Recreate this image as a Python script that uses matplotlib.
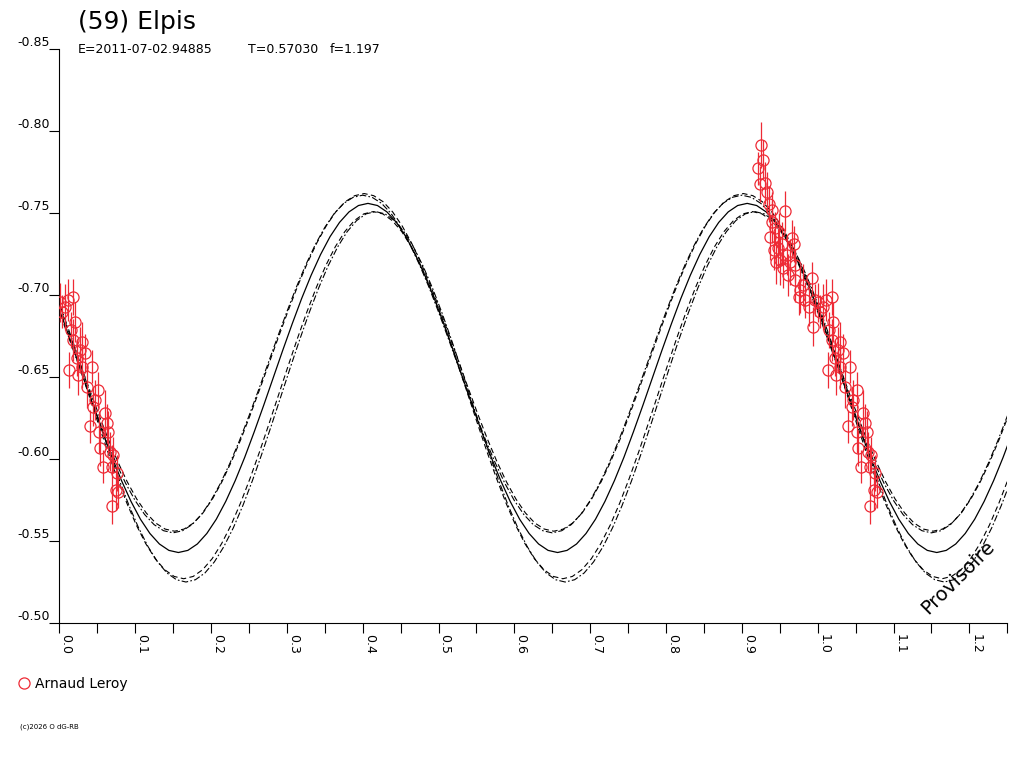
import numpy as np
import matplotlib
matplotlib.use("Agg")
import matplotlib.pyplot as plt
from matplotlib.lines import Line2D

plt.rcParams['font.family'] = ['DejaVu Sans']

title = "(59) Elpis"
epoch_txt = "E=2011-07-02.94885"
period_txt = "T=0.57030"
f_txt = "f=1.197"
observer = "Arnaud Leroy"
credit = "(c)2026 O dG-RB"
stamp = "Provisoire"

# observations: rotation phase [0,1), relative magnitude, error bar
phase_obs = [0.9257, 0.9274, 0.9214, 0.9244, 0.9310, 0.9332, 0.9354, 0.9565, 0.9398, 0.9442,
             0.9376, 0.9662, 0.9530, 0.9420, 0.9508, 0.9596, 0.9455, 0.9683, 0.9640, 0.9548,
             0.9706, 0.9613, 0.9482, 0.9749, 0.9772, 0.9926, 0.9881, 0.9811, 0.9838, 0.9939,
             0.9970, 0.9706, 0.9402, 0.9495,
             0.0009, 0.0075, 0.0185, 0.0032, 0.0115, 0.0207, 0.0154, 0.0185, 0.0296, 0.0273,
             0.0230, 0.0339, 0.0132, 0.0296, 0.0427, 0.0247, 0.0361, 0.0515, 0.0449, 0.0603,
             0.0405, 0.0625, 0.0646, 0.0537, 0.0669, 0.0573, 0.0691, 0.0757, 0.0748, 0.0778,
             0.0691, 0.0471, 0.0524, 0.0708]
mag_obs = [-0.7915, -0.7827, -0.7773, -0.7681, -0.7685, -0.7630, -0.7559, -0.7514, -0.7447, -0.7409,
           -0.7355, -0.7346, -0.7315, -0.7274, -0.7213, -0.7244, -0.7201, -0.7315, -0.7201, -0.7165,
           -0.7183, -0.7122, -0.7287, -0.6990, -0.7030, -0.7102, -0.6929, -0.7061, -0.6970, -0.6807,
           -0.6970, -0.7091, -0.7518, -0.7384,
           -0.6956, -0.6929, -0.6986, -0.6898, -0.6970, -0.6837, -0.6787, -0.6726, -0.6715, -0.6665,
           -0.6614, -0.6646, -0.6543, -0.6563, -0.6563, -0.6513, -0.6441, -0.6421, -0.6319, -0.6279,
           -0.6201, -0.6218, -0.6166, -0.6065, -0.6045, -0.5953, -0.5953, -0.5913, -0.5811, -0.5801,
           -0.5713, -0.6360, -0.6165, -0.6024]
err_obs = [0.014, 0.012, 0.010, 0.011, 0.013, 0.012, 0.011, 0.012, 0.013, 0.010,
           0.014, 0.011, 0.013, 0.012, 0.015, 0.012, 0.013, 0.011, 0.014, 0.012,
           0.010, 0.013, 0.012, 0.011, 0.014, 0.010, 0.012, 0.013, 0.011, 0.012,
           0.010, 0.013, 0.011, 0.012,
           0.012, 0.014, 0.011, 0.010, 0.013, 0.012, 0.011, 0.013, 0.012, 0.014,
           0.011, 0.012, 0.011, 0.013, 0.010, 0.012, 0.013, 0.011, 0.012, 0.014,
           0.010, 0.012, 0.013, 0.011, 0.012, 0.010, 0.013, 0.011, 0.012, 0.010,
           0.011, 0.012, 0.013, 0.011]

# model curves: phase of maximum, then magnitude from maximum
# down to minimum every 0.0125 in phase (curve is symmetric, period 0.5)
step = 0.0125
fit_peak = 0.407
fit_mag = [-0.7560, -0.7547, -0.7508, -0.7444, -0.7357, -0.7248, -0.7121, -0.6979, -0.6824, -0.6662,
           -0.6495, -0.6328, -0.6166, -0.6011, -0.5869, -0.5742, -0.5633, -0.5546, -0.5482, -0.5443, -0.5430]
up1_peak = 0.402
up1_mag = [-0.7620, -0.7607, -0.7570, -0.7508, -0.7423, -0.7318, -0.7195, -0.7058, -0.6908, -0.6751,
           -0.6590, -0.6429, -0.6272, -0.6122, -0.5985, -0.5862, -0.5757, -0.5672, -0.5610, -0.5573, -0.5560]
up2_peak = 0.400
up2_mag = [-0.7610, -0.7597, -0.7560, -0.7498, -0.7413, -0.7308, -0.7185, -0.7048, -0.6898, -0.6741,
           -0.6580, -0.6419, -0.6262, -0.6112, -0.5975, -0.5852, -0.5747, -0.5662, -0.5600, -0.5563, -0.5550]
lo1_peak = 0.414
lo1_mag = [-0.7510, -0.7496, -0.7455, -0.7388, -0.7296, -0.7182, -0.7048, -0.6898, -0.6736, -0.6565,
           -0.6390, -0.6215, -0.6044, -0.5882, -0.5732, -0.5598, -0.5484, -0.5392, -0.5325, -0.5284, -0.5270]
lo2_peak = 0.417
lo2_mag = [-0.7510, -0.7496, -0.7455, -0.7387, -0.7294, -0.7179, -0.7044, -0.6893, -0.6729, -0.6557,
           -0.6380, -0.6203, -0.6031, -0.5867, -0.5716, -0.5581, -0.5466, -0.5373, -0.5305, -0.5264, -0.5250]

x_major = [0.0, 0.1, 0.2, 0.3, 0.4, 0.5, 0.6, 0.7, 0.8, 0.9, 1.0, 1.1, 1.2]
x_minor = [0.05, 0.15, 0.25, 0.35, 0.45, 0.55, 0.65, 0.75, 0.85, 0.95, 1.05, 1.15, 1.25]
y_ticks = [-0.85, -0.80, -0.75, -0.70, -0.65, -0.60, -0.55, -0.50]

red = '#ee2a35'


def model(peak, half):
    half = np.array(half)
    one = np.r_[half[::-1], half[1:-1]]          # min -> max -> just before next min
    d = (np.arange(len(one)) - (len(half) - 1)) * step
    xs = np.concatenate([peak + d + s for s in (-0.5, 0.0, 0.5, 1.0)])
    ys = np.tile(one, 4)
    return xs, ys


W, H = 1024, 768
fig = plt.figure(figsize=(W / 100, H / 100), dpi=100)
ax = fig.add_axes([59.3 / W, 1 - 623 / H, (1007.3 - 59.3) / W, (623 - 49.3) / H])

for pk, mg, ls in [(up1_peak, up1_mag, (0, (5, 3))),
                   (up2_peak, up2_mag, (0, (6, 2, 1.5, 2))),
                   (lo1_peak, lo1_mag, (0, (5, 3))),
                   (lo2_peak, lo2_mag, (0, (6, 2, 1.5, 2)))]:
    xs, ys = model(pk, mg)
    ax.plot(xs, ys, color='black', lw=0.8, ls=ls, zorder=2)
xs, ys = model(fit_peak, fit_mag)
ax.plot(xs, ys, color='black', lw=0.9, zorder=2)

# data shown at phase and phase+1
ph = np.array(phase_obs)
xd = np.r_[ph, ph + 1]
yd = np.r_[mag_obs, mag_obs]
ed = np.r_[err_obs, err_obs]
keep = xd <= 1.25
ax.errorbar(xd[keep], yd[keep], yerr=ed[keep], fmt='o', ms=8, mfc='none', mec=red,
            mew=0.9, ecolor=red, elinewidth=0.9, capsize=0, zorder=3)

ax.set_xlim(0, 1.25)
ax.set_ylim(-0.50, -0.85)
for s in ['top', 'right']:
    ax.spines[s].set_visible(False)
for s in ['left', 'bottom']:
    ax.spines[s].set_linewidth(0.8)

ax.set_xticks(x_major)
ax.set_xticks(x_minor, minor=True)
ax.set_xticklabels(['%.1f' % v for v in x_major], rotation=-90, ha='left', va='top')
ax.set_yticks(y_ticks)
ax.set_yticklabels(['%.2f' % v for v in y_ticks])
ax.tick_params(axis='x', which='both', direction='out', length=7, width=0.8, pad=1, labelsize=9)
ax.tick_params(axis='y', direction='out', length=7, width=0.8, pad=0, labelsize=9)
for t in ax.get_yticklabels():
    t.set_va('bottom')

# header
fig.text(78 / W, 1 - 29 / H, title, fontsize=18, va='baseline')
fig.text(78 / W, 1 - 53 / H, epoch_txt, fontsize=9, va='baseline')
fig.text(248 / W, 1 - 53 / H, period_txt, fontsize=9, va='baseline')
fig.text(330 / W, 1 - 53 / H, f_txt, fontsize=9, va='baseline')

# legend
fig.add_artist(Line2D([24 / W], [1 - 683 / H], transform=fig.transFigure, marker='o', ms=8,
                      mfc='none', mec=red, mew=0.9, ls='none'))
fig.text(35 / W, 1 - 688 / H, observer, fontsize=10, va='baseline')
fig.text(20 / W, 1 - 728 / H, credit, fontsize=5, va='baseline')

fig.text(958 / W, 1 - 577 / H, stamp, fontsize=14, rotation=45, ha='center', va='center',
         rotation_mode='anchor')

fig.savefig('out.png', dpi=100)
